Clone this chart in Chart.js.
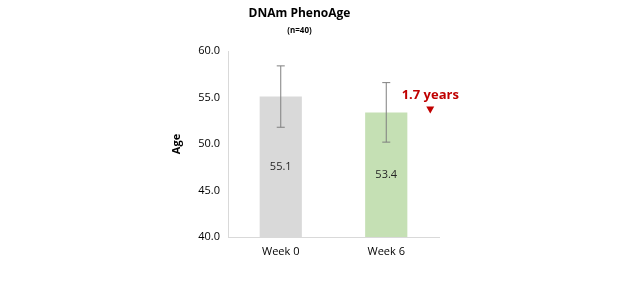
<!DOCTYPE html>
<html>
<head>
<meta charset="utf-8">
<script src="https://cdn.jsdelivr.net/npm/chart.js@4"></script>
<style>
  html, body { margin: 0; padding: 0; background: #fff; }
  #wrap { width: 624px; height: 300px; }
</style>
</head>
<body>
<div id="wrap"><canvas id="chart" width="624" height="300"></canvas></div>
<script>
// ── data ──
const categories = ["Week 0", "Week 6"];
const ageMeans = [55.1, 53.4];
const ageErrors = [3.3, 3.2];
const barColors = ["#d9d9d9", "#c5e0b4"];
const yTicks = [40, 45, 50, 55, 60];
const deltaLabel = "1.7 years";

const FONT = "'Open Sans', 'Noto Sans', sans-serif";

// error bars, value labels and the delta marker
const extras = {
  id: "extras",
  afterDatasetsDraw(chart) {
    const ctx = chart.ctx;
    const y = chart.scales.y;
    const meta = chart.getDatasetMeta(0);
    const basePx = y.getPixelForValue(y.min);
    ctx.save();
    meta.data.forEach((bar, i) => {
      const cx = bar.x;
      const top = y.getPixelForValue(ageMeans[i] + ageErrors[i]);
      const bot = y.getPixelForValue(ageMeans[i] - ageErrors[i]);
      ctx.strokeStyle = "#7f7f7f";
      ctx.lineWidth = 1;
      ctx.beginPath();
      ctx.moveTo(cx, top); ctx.lineTo(cx, bot);
      ctx.moveTo(cx - 4, top); ctx.lineTo(cx + 4, top);
      ctx.moveTo(cx - 4, bot); ctx.lineTo(cx + 4, bot);
      ctx.stroke();

      const vPx = y.getPixelForValue(ageMeans[i]);
      ctx.fillStyle = "#262626";
      ctx.font = "11px " + FONT;
      ctx.textAlign = "center";
      ctx.textBaseline = "middle";
      ctx.fillText(ageMeans[i].toFixed(1), cx, (vPx + basePx) / 2);
    });

    // delta marker next to week 6
    const last = meta.data[meta.data.length - 1];
    const mx = last.x + 44;
    const ty = y.getPixelForValue(ageMeans[0]);
    ctx.fillStyle = "#c00000";
    ctx.font = "bold 13px " + FONT;
    ctx.textAlign = "center";
    ctx.textBaseline = "middle";
    ctx.fillText(deltaLabel, mx, ty - 1);
    const triY = ty + 13;
    ctx.beginPath();
    ctx.moveTo(mx - 4, triY - 3);
    ctx.lineTo(mx + 4, triY - 3);
    ctx.lineTo(mx, triY + 4);
    ctx.closePath();
    ctx.fill();
    ctx.restore();
  },
};

new Chart(document.getElementById("chart"), {
  type: "bar",
  data: {
    labels: categories,
    datasets: [
      {
        data: ageMeans,
        backgroundColor: barColors,
        borderWidth: 0,
        categoryPercentage: 0.8,
        barPercentage: 0.5,
      },
    ],
  },
  options: {
    responsive: false,
    animation: false,
    devicePixelRatio: 1,
    layout: { padding: { left: 160, right: 185, top: 0, bottom: 0 } },
    plugins: {
      legend: { display: false },
      tooltip: { enabled: false },
      title: {
        display: true,
        text: "DNAm PhenoAge",
        color: "#000",
        font: { family: FONT, size: 12, weight: "bold" },
        padding: { top: 6, bottom: 2 },
      },
      subtitle: {
        display: true,
        text: "(n=40)",
        color: "#000",
        font: { family: FONT, size: 8, weight: "bold" },
        padding: { top: 4, bottom: 15 },
      },
    },
    scales: {
      x: {
        grid: { display: false, drawTicks: false },
        border: { color: "#d9d9d9" },
        ticks: {
          color: "#000",
          padding: 8,
          font: { family: FONT, size: 11 },
        },
        afterFit(s) { s.height = 63; },
      },
      y: {
        min: 40,
        max: 60,
        afterBuildTicks(s) { s.ticks = yTicks.map((v) => ({ value: v })); },
        grid: { display: false, drawOnChartArea: false, drawTicks: true, tickLength: 4, color: "#d9d9d9" },
        border: { color: "#d9d9d9" },
        ticks: {
          color: "#000",
          padding: 4,
          font: { family: FONT, size: 11 },
          callback: (v) => v.toFixed(1),
        },
        title: {
          display: true,
          text: "Age",
          color: "#000",
          font: { family: FONT, size: 11, weight: "bold" },
          padding: { top: 10, bottom: 0 },
        },
        afterFit(s) { s.width = 68; },
      },
    },
  },
  plugins: [extras],
});
</script>
</body>
</html>
